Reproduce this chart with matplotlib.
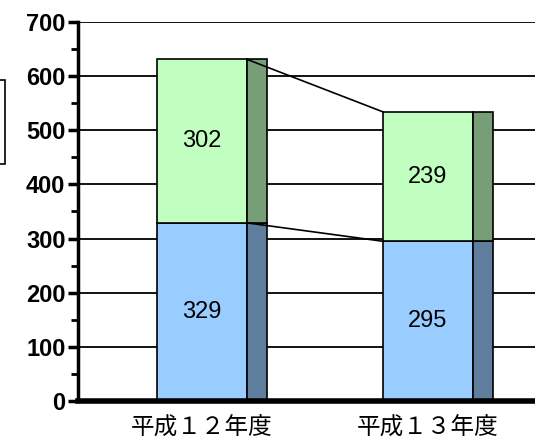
import matplotlib.pyplot as plt
from matplotlib.patches import Rectangle
from matplotlib.ticker import MultipleLocator

# 年度別の内訳
years = ['平成１２年度', '平成１３年度']
lower_vals = [329, 295]
upper_vals = [302, 239]

front_colors = ['#99CCFF', '#C0FFC0']
side_colors = ['#5F7E9E', '#779E77']

plt.rcParams['font.family'] = ['Liberation Sans', 'DejaVu Sans']

fig = plt.figure(figsize=(5.35, 4.38), dpi=100)
W, H = 535, 438
ax = fig.add_axes([78 / W, (H - 401) / H, (570 - 78) / W, (401 - 22) / H])

x = [0, 1]
w_front = 90 / 226
w_side = 20 / 226

for i, xi in enumerate(x):
    bottom = 0
    for vals, fc, sc in [(lower_vals, front_colors[0], side_colors[0]),
                         (upper_vals, front_colors[1], side_colors[1])]:
        v = vals[i]
        ax.bar(xi, v, width=w_front, bottom=bottom, color=fc,
               edgecolor='black', linewidth=1.2, zorder=3)
        ax.bar(xi + w_front / 2, v, width=w_side, bottom=bottom, align='edge',
               color=sc, edgecolor='black', linewidth=1.2, zorder=3)
        ax.text(xi, bottom + v / 2, str(v), ha='center', va='center',
                fontsize=17, zorder=5)
        bottom += v

# 年度間をつなぐ線
tops1 = [lower_vals[0], lower_vals[0] + upper_vals[0]]
tops2 = [lower_vals[1], lower_vals[1] + upper_vals[1]]
for a, b in zip(tops1, tops2):
    ax.plot([x[0] + w_front / 2, x[1] - w_front / 2], [a, b],
            color='black', lw=1.2, zorder=4)

ax.set_ylim(0, 700)
ax.set_xlim(-(202 - 78) / 226, 1 + (570 - 428) / 226)
ax.yaxis.set_major_locator(MultipleLocator(100))
ax.yaxis.set_minor_locator(MultipleLocator(50))
ax.set_xticks(x)
ax.set_xticklabels(years, fontsize=17, family=['Noto Sans CJK JP', 'DejaVu Sans'])
ax.tick_params(axis='x', length=0, pad=11)
ax.tick_params(axis='y', which='major', length=7, width=2.5, labelsize=17, pad=2)
ax.tick_params(axis='y', which='minor', length=5, width=2)
for lab in ax.get_yticklabels():
    lab.set_fontweight('bold')

ax.grid(axis='y', color='black', lw=1.3, zorder=0)
ax.spines['top'].set_visible(False)
ax.spines['right'].set_visible(False)
ax.spines['left'].set_linewidth(2.5)
ax.spines['bottom'].set_linewidth(4)
ax.spines['left'].set_zorder(6)
ax.spines['bottom'].set_zorder(6)

# 左端の凡例枠
fig.patches.append(Rectangle((-20 / W, (H - 164) / H), 25 / W, 84 / H,
                             transform=fig.transFigure, fill=False,
                             edgecolor='black', lw=1.2))

fig.savefig('out.png', dpi=100)
